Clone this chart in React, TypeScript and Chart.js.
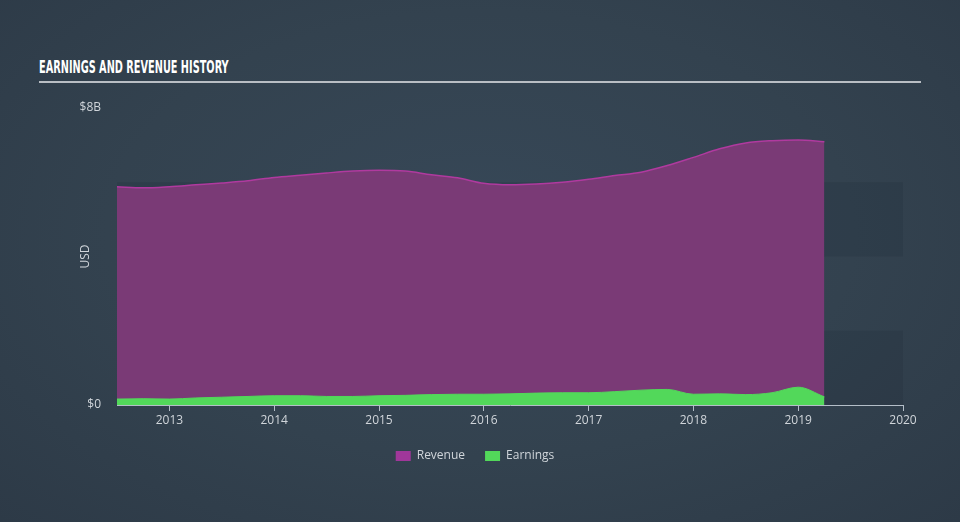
import React, { useEffect, useRef } from "react";
import { Chart, registerables } from "chart.js";

Chart.register(...registerables);

const titleText = "EARNINGS AND REVENUE HISTORY";
const periods = [
  2012.5, 2012.75, 2013.0, 2013.25, 2013.5, 2013.75, 2014.0, 2014.25, 2014.5, 2014.75,
  2015.0, 2015.25, 2015.5, 2015.75, 2016.0, 2016.25, 2016.5, 2016.75, 2017.0, 2017.25,
  2017.5, 2017.75, 2018.0, 2018.25, 2018.5, 2018.75, 2019.0, 2019.25,
];
const revenueB = [
  5.88, 5.85, 5.88, 5.93, 5.98, 6.04, 6.13, 6.19, 6.25, 6.3,
  6.32, 6.3, 6.2, 6.12, 5.97, 5.93, 5.95, 6.0, 6.08, 6.18,
  6.27, 6.45, 6.67, 6.9, 7.06, 7.12, 7.14, 7.09,
];
const earningsB = [
  0.16, 0.17, 0.16, 0.19, 0.21, 0.23, 0.25, 0.25, 0.23, 0.23,
  0.25, 0.26, 0.28, 0.29, 0.29, 0.3, 0.32, 0.33, 0.33, 0.36,
  0.4, 0.42, 0.29, 0.3, 0.28, 0.33, 0.48, 0.22,
];
const xTickYears = [2013, 2014, 2015, 2016, 2017, 2018, 2019, 2020];
const xMin = 2012.5;
const xMax = 2020;
const yTicks = [0, 8e9];
const yTickLabels = ["$0", "$8B"];
const bandRanges: [number, number][] = [
  [0, 2e9],
  [4e9, 6e9],
];

const bandPlugin = {
  id: "bands",
  beforeDatasetsDraw(chart: any) {
    const { ctx, chartArea, scales } = chart;
    ctx.save();
    ctx.fillStyle = "rgba(20,28,38,0.12)";
    bandRanges.forEach(([a, b]) => {
      const y1 = scales.y.getPixelForValue(b);
      const y2 = scales.y.getPixelForValue(a);
      ctx.fillRect(chartArea.left, y1, chartArea.right - chartArea.left, y2 - y1);
    });
    ctx.restore();
  },
};

// Centre the legend on the page (slightly left of centre, as in the original)
const legendCenterPlugin = {
  id: "legendCenter",
  afterLayout(chart: any) {
    const lg = chart.legend;
    if (lg) {
      lg.left = 0;
      lg.right = chart.width - 10;
    }
  },
};

export default function App() {
  const ref = useRef<HTMLCanvasElement | null>(null);
  useEffect(() => {
    if (!ref.current) return;
    const chart = new Chart(ref.current, {
      type: "line",
      data: {
        datasets: [
          {
            label: "Earnings",
            data: periods.map((p, i) => ({ x: p, y: earningsB[i] * 1e9 })),
            borderColor: "#52d85a",
            backgroundColor: "#52d85a",
            borderWidth: 1,
            fill: "origin",
            pointRadius: 0,
            tension: 0.4,
            cubicInterpolationMode: "monotone",
            order: 0,
          },
          {
            label: "Revenue",
            data: periods.map((p, i) => ({ x: p, y: revenueB[i] * 1e9 })),
            borderColor: "#b03a9f",
            backgroundColor: "#7a3a76",
            borderWidth: 1.5,
            fill: "origin",
            pointRadius: 0,
            tension: 0.4,
            cubicInterpolationMode: "monotone",
            order: 1,
          },
        ],
      },
      options: {
        animation: false,
        responsive: false,
        maintainAspectRatio: false,
        layout: { padding: { left: 78, right: 57, top: 108, bottom: 50 } },
        plugins: {
          tooltip: { enabled: false },
          legend: {
            display: true,
            position: "bottom",
            labels: {
              color: "#d0d5da",
              boxWidth: 15,
              boxHeight: 10,
              padding: 20,
              font: { family: "'Open Sans', sans-serif", size: 12 },
              generateLabels: (c: any) =>
                c.data.datasets
                  .map((d: any, i: number) => ({
                    text: d.label,
                    fillStyle: d.label === "Revenue" ? "#a0379a" : "#52d85a",
                    strokeStyle: "rgba(0,0,0,0)",
                    lineWidth: 0,
                    fontColor: "#d0d5da",
                    datasetIndex: i,
                  }))
                  .reverse(),
            },
          },
        },
        scales: {
          x: {
            type: "linear",
            min: xMin,
            max: xMax,
            afterBuildTicks: (s: any) => {
              s.ticks = xTickYears.map((v) => ({ value: v }));
            },
            afterFit: (s: any) => {
              s.height = 25;
            },
            ticks: {
              color: "#d0d5da",
              padding: 2,
              maxRotation: 0,
              autoSkip: false,
              font: { family: "'Open Sans', sans-serif", size: 12 },
              callback: (v: any) => String(v),
            },
            grid: {
              drawOnChartArea: false,
              drawTicks: true,
              tickLength: 6,
              color: "#b4bec8",
            },
            border: { display: true, color: "#b4bec8", width: 1 },
          },
          y: {
            min: 0,
            max: 8e9,
            afterBuildTicks: (s: any) => {
              s.ticks = yTicks.map((v) => ({ value: v }));
            },
            afterFit: (s: any) => {
              s.width = 39;
            },
            ticks: {
              color: "#d0d5da",
              padding: 16,
              font: { family: "'Open Sans', sans-serif", size: 12 },
              callback: (v: any) => yTickLabels[yTicks.indexOf(v)],
            },
            grid: { display: false, drawTicks: false },
            border: { display: false },
            title: {
              display: true,
              text: "USD",
              color: "#d0d5da",
              padding: 0,
              font: { family: "'Open Sans', sans-serif", size: 12 },
            },
          },
        },
      },
      plugins: [bandPlugin, legendCenterPlugin],
    } as any);
    return () => chart.destroy();
  }, []);

  return (
    <div
      style={{
        position: "absolute",
        left: 0,
        top: 0,
        width: 960,
        height: 522,
        overflow: "hidden",
        background: "radial-gradient(ellipse at 50% 45%, #374858 0%, #33424f 55%, #2d3a47 100%)",
      }}
    >
      <div
        style={{
          position: "absolute",
          left: 39,
          top: 57,
          fontFamily: "'DejaVu Sans', sans-serif",
          fontWeight: 700,
          fontSize: 18,
          lineHeight: "20px",
          color: "#ffffff",
          whiteSpace: "nowrap",
          transform: "scaleX(0.542)",
          transformOrigin: "left top",
        }}
      >
        {titleText}
      </div>
      <div
        style={{
          position: "absolute",
          left: 39,
          top: 81,
          width: 882,
          height: 2,
          background: "#b9bec4",
        }}
      />
      <canvas ref={ref} width={960} height={522} style={{ position: "absolute", left: 0, top: 0 }} />
    </div>
  );
}
